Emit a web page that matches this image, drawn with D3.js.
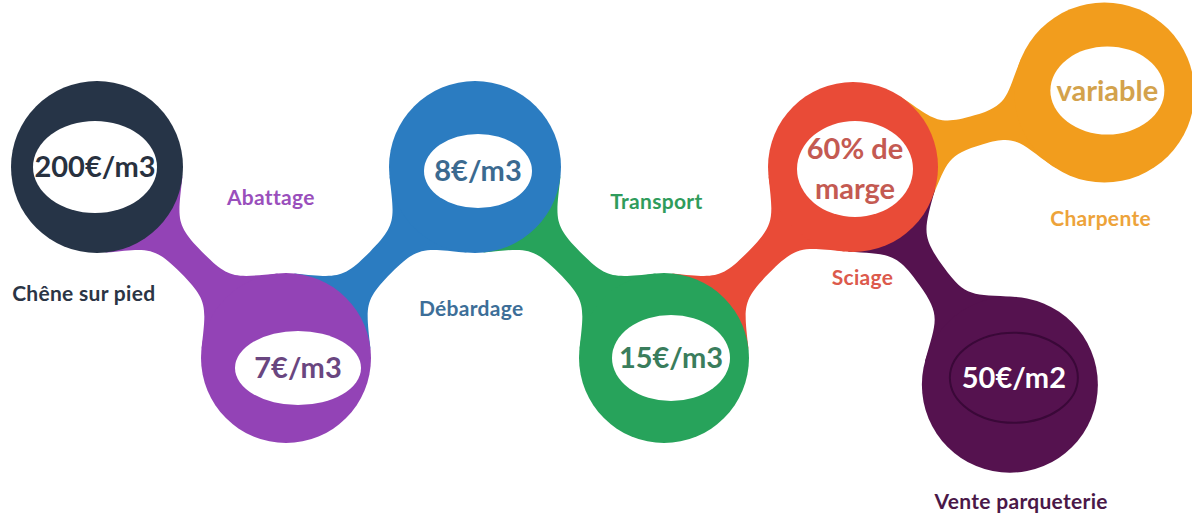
<!DOCTYPE html>
<html><head><meta charset="utf-8">
<script src="https://cdn.jsdelivr.net/npm/d3@7"></script>
<style>html,body{margin:0;padding:0;background:#fff;} svg{display:block;}</style>
</head><body>
<svg id="chart" width="1192" height="515"></svg>
<script>
// ---- data ----
const steps = ["Chêne sur pied","Abattage","Débardage","Transport","Sciage","Charpente","Vente parqueterie"];
const values = [["200€/m3"],["7€/m3"],["8€/m3"],["15€/m3"],["60% de","marge"],["variable"],["50€/m2"]];
const links = [[0,1],[1,2],[2,3],[3,4],[4,5],[4,6]];

// ---- layout (grid units) & styles ----
const cols = [0,1,2,3,4,5.33,4.83];
const rows = [0,1,0,1,0,-0.39,1.14];
const labelCols = [-0.07,0.92,1.98,2.96,4.05,5.31,4.89];
const labelRows = [0.66,0.16,0.74,0.18,0.58,0.27,1.75];
const radius = [86,85,86,85,85,90,88];
const inner = [ // dx, dy, rx, ry
  [-2,0,62,46],[12,10,63,37],[3,4,54,37],[7,0,59,43],[2,2,58,48],[3,-2,57,44],[4,-7,64,45]
];
const colors = ["#263447","#9343b6","#2b7cc1","#27a35b","#e94b37","#f29d1d","#55124f"];
const valueColors = ["#28313f","#6a4680","#3b6a90","#3a7d5c","#c45a52","#d3a24c","#ffffff"];
const labelColors = ["#2b3545","#9a4fbc","#3d6e98","#2f9c5c","#dc5a4c","#eda33a","#4a1848"];

const svg = d3.select("#chart");
const x = d3.scaleLinear().domain([0,4]).range([97,853]);
const y = d3.scaleLinear().domain([0,1]).range([167,358]);

const nodes = steps.map((s,i)=>({i, label:s, lines:values[i], cx:x(cols[i]), cy:y(rows[i]), r:radius[i]}));

function pt(c,a,r){return [c[0]+r*Math.cos(a), c[1]+r*Math.sin(a)];}
function dist(a,b){return Math.hypot(a[0]-b[0],a[1]-b[1]);}
// neck connector between two circles
function neck(c1,r1,c2,r2,alpha,w,k){
  const ang=Math.atan2(c2[1]-c1[1],c2[0]-c1[0]);
  const mid=[(c1[0]+c2[0])/2,(c1[1]+c2[1])/2];
  const p=d3.path();
  const side=(s)=>{
    const a1=ang+s*alpha, a3=ang+Math.PI-s*alpha;
    const p1=pt(c1,a1,r1), p3=pt(c2,a3,r2);
    const m=pt(mid,ang+s*Math.PI/2,w);
    const t1=dist(p1,m)*k, t3=dist(p3,m)*k;
    const h1=pt(p1,a1-s*Math.PI/2,t1);
    const hm1=pt(m,ang+Math.PI,t1*0.9);
    const hm3=pt(m,ang,t3*0.9);
    const h3=pt(p3,a3+s*Math.PI/2,t3);
    return {p1,p3,h1,hm1,m,hm3,h3};
  };
  const A=side(1), B=side(-1);
  p.moveTo(...c1);
  p.lineTo(...A.p1);
  p.bezierCurveTo(...A.h1,...A.hm1,...A.m);
  p.bezierCurveTo(...A.hm3,...A.h3,...A.p3);
  p.lineTo(...c2);
  p.lineTo(...B.p3);
  p.bezierCurveTo(...B.h3,...B.hm3,...B.m);
  p.bezierCurveTo(...B.hm1,...B.h1,...B.p1);
  p.closePath();
  return p.toString();
}

// connectors (colored by target)
svg.append("g").selectAll("path").data(links).join("path")
  .attr("d",([a,b])=>neck([nodes[a].cx,nodes[a].cy],nodes[a].r,[nodes[b].cx,nodes[b].cy],nodes[b].r,0.68,15,0.55))
  .attr("fill",([a,b])=>colors[b]);

const g = svg.append("g").selectAll("g").data(nodes).join("g");
g.append("circle").attr("cx",d=>d.cx).attr("cy",d=>d.cy).attr("r",d=>d.r).attr("fill",d=>colors[d.i]);
g.append("ellipse")
  .attr("cx",d=>d.cx+inner[d.i][0]).attr("cy",d=>d.cy+inner[d.i][1])
  .attr("rx",d=>inner[d.i][2]).attr("ry",d=>inner[d.i][3])
  .attr("fill",d=>d.i===6?"none":"#ffffff")
  .attr("stroke",d=>d.i===6?"#3a0838":"none").attr("stroke-width",2);
g.each(function(d){
  const n=d.lines.length, lh=40;
  d3.select(this).selectAll("text.v").data(d.lines).join("text").attr("class","v")
    .attr("x",d.cx+inner[d.i][0]).attr("y",(t,k)=>d.cy+inner[d.i][1]+(k-(n-1)/2)*lh)
    .attr("dy","0.36em").attr("text-anchor","middle")
    .attr("font-family","Lato, 'Open Sans', sans-serif").attr("font-weight",700)
    .attr("font-size",29).attr("fill",valueColors[d.i]).text(t=>t);
});

// labels
svg.append("g").selectAll("text").data(nodes).join("text")
  .attr("x",d=>x(labelCols[d.i])).attr("y",d=>y(labelRows[d.i]))
  .attr("dy","0.36em").attr("text-anchor","middle")
  .attr("font-family","Lato, 'Open Sans', sans-serif").attr("font-weight",700)
  .attr("font-size",21).attr("letter-spacing",0.3).attr("fill",d=>labelColors[d.i]).text(d=>d.label);
</script>
</body></html>
